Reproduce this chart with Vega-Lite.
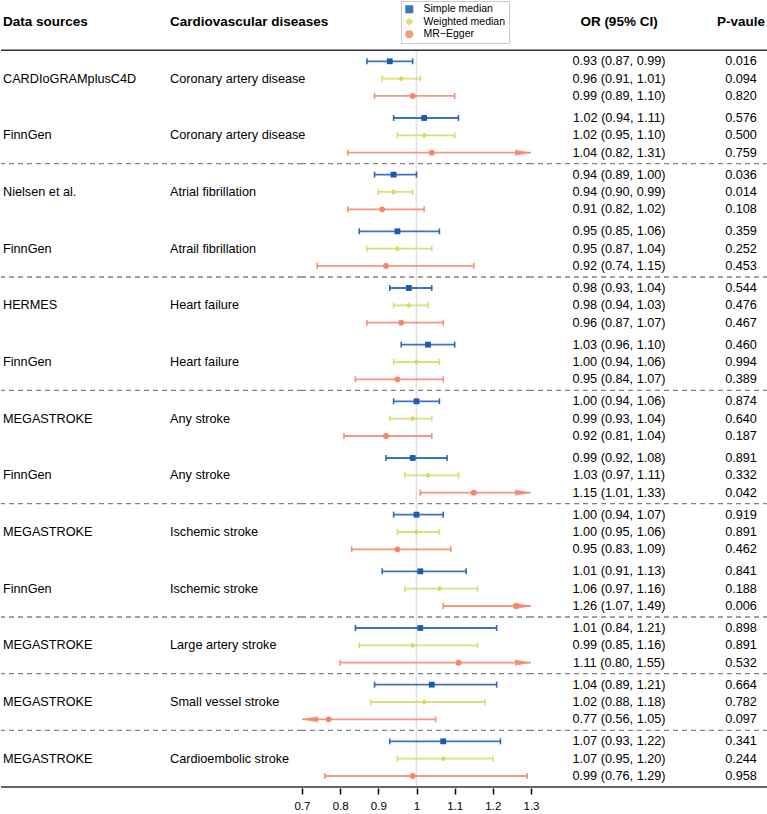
{
  "$schema": "https://vega.github.io/schema/vega-lite/v6.json",
  "padding": 0,
  "bounds": "flush",
  "spacing": 0,
  "config": {
    "view": {"stroke": null},
    "font": "Liberation Sans",
    "concat": {"spacing": 0},
    "text": {"color": "#000000", "font": "Liberation Sans"}
  },
  "datasets": {
    "one": [{}],
    "hdrL": [{"col": "source", "label": "Data sources"}, {"col": "disease", "label": "Cardiovascular diseases"}],
    "hdrR": [{"col": "or", "label": "OR (95% CI)"}, {"col": "p", "label": "P-vaule"}],
    "rows": [
      {"g": 1, "section": "Coronary artery disease", "source": "CARDIoGRAMplusC4D", "disease": "Coronary artery disease", "method": "Simple median", "or": 0.93, "lo": 0.87, "hi": 0.99, "ci": "0.93 (0.87, 0.99)", "p": 0.016},
      {"g": 1, "section": "Coronary artery disease", "source": "CARDIoGRAMplusC4D", "disease": "Coronary artery disease", "method": "Weighted median", "or": 0.96, "lo": 0.91, "hi": 1.01, "ci": "0.96 (0.91, 1.01)", "p": 0.094},
      {"g": 1, "section": "Coronary artery disease", "source": "CARDIoGRAMplusC4D", "disease": "Coronary artery disease", "method": "MR−Egger", "or": 0.99, "lo": 0.89, "hi": 1.10, "ci": "0.99 (0.89, 1.10)", "p": 0.820},
      {"g": 2, "section": "Coronary artery disease", "source": "FinnGen", "disease": "Coronary artery disease", "method": "Simple median", "or": 1.02, "lo": 0.94, "hi": 1.11, "ci": "1.02 (0.94, 1.11)", "p": 0.576},
      {"g": 2, "section": "Coronary artery disease", "source": "FinnGen", "disease": "Coronary artery disease", "method": "Weighted median", "or": 1.02, "lo": 0.95, "hi": 1.10, "ci": "1.02 (0.95, 1.10)", "p": 0.500},
      {"g": 2, "section": "Coronary artery disease", "source": "FinnGen", "disease": "Coronary artery disease", "method": "MR−Egger", "or": 1.04, "lo": 0.82, "hi": 1.31, "ci": "1.04 (0.82, 1.31)", "p": 0.759},
      {"g": 3, "section": "Atrial fibrillation", "source": "Nielsen et al.", "disease": "Atrial fibrillation", "method": "Simple median", "or": 0.94, "lo": 0.89, "hi": 1.00, "ci": "0.94 (0.89, 1.00)", "p": 0.036},
      {"g": 3, "section": "Atrial fibrillation", "source": "Nielsen et al.", "disease": "Atrial fibrillation", "method": "Weighted median", "or": 0.94, "lo": 0.90, "hi": 0.99, "ci": "0.94 (0.90, 0.99)", "p": 0.014},
      {"g": 3, "section": "Atrial fibrillation", "source": "Nielsen et al.", "disease": "Atrial fibrillation", "method": "MR−Egger", "or": 0.91, "lo": 0.82, "hi": 1.02, "ci": "0.91 (0.82, 1.02)", "p": 0.108},
      {"g": 4, "section": "Atrial fibrillation", "source": "FinnGen", "disease": "Atrail fibrillation", "method": "Simple median", "or": 0.95, "lo": 0.85, "hi": 1.06, "ci": "0.95 (0.85, 1.06)", "p": 0.359},
      {"g": 4, "section": "Atrial fibrillation", "source": "FinnGen", "disease": "Atrail fibrillation", "method": "Weighted median", "or": 0.95, "lo": 0.87, "hi": 1.04, "ci": "0.95 (0.87, 1.04)", "p": 0.252},
      {"g": 4, "section": "Atrial fibrillation", "source": "FinnGen", "disease": "Atrail fibrillation", "method": "MR−Egger", "or": 0.92, "lo": 0.74, "hi": 1.15, "ci": "0.92 (0.74, 1.15)", "p": 0.453},
      {"g": 5, "section": "Heart failure", "source": "HERMES", "disease": "Heart failure", "method": "Simple median", "or": 0.98, "lo": 0.93, "hi": 1.04, "ci": "0.98 (0.93, 1.04)", "p": 0.544},
      {"g": 5, "section": "Heart failure", "source": "HERMES", "disease": "Heart failure", "method": "Weighted median", "or": 0.98, "lo": 0.94, "hi": 1.03, "ci": "0.98 (0.94, 1.03)", "p": 0.476},
      {"g": 5, "section": "Heart failure", "source": "HERMES", "disease": "Heart failure", "method": "MR−Egger", "or": 0.96, "lo": 0.87, "hi": 1.07, "ci": "0.96 (0.87, 1.07)", "p": 0.467},
      {"g": 6, "section": "Heart failure", "source": "FinnGen", "disease": "Heart failure", "method": "Simple median", "or": 1.03, "lo": 0.96, "hi": 1.10, "ci": "1.03 (0.96, 1.10)", "p": 0.460},
      {"g": 6, "section": "Heart failure", "source": "FinnGen", "disease": "Heart failure", "method": "Weighted median", "or": 1.00, "lo": 0.94, "hi": 1.06, "ci": "1.00 (0.94, 1.06)", "p": 0.994},
      {"g": 6, "section": "Heart failure", "source": "FinnGen", "disease": "Heart failure", "method": "MR−Egger", "or": 0.95, "lo": 0.84, "hi": 1.07, "ci": "0.95 (0.84, 1.07)", "p": 0.389},
      {"g": 7, "section": "Any stroke", "source": "MEGASTROKE", "disease": "Any stroke", "method": "Simple median", "or": 1.00, "lo": 0.94, "hi": 1.06, "ci": "1.00 (0.94, 1.06)", "p": 0.874},
      {"g": 7, "section": "Any stroke", "source": "MEGASTROKE", "disease": "Any stroke", "method": "Weighted median", "or": 0.99, "lo": 0.93, "hi": 1.04, "ci": "0.99 (0.93, 1.04)", "p": 0.640},
      {"g": 7, "section": "Any stroke", "source": "MEGASTROKE", "disease": "Any stroke", "method": "MR−Egger", "or": 0.92, "lo": 0.81, "hi": 1.04, "ci": "0.92 (0.81, 1.04)", "p": 0.187},
      {"g": 8, "section": "Any stroke", "source": "FinnGen", "disease": "Any stroke", "method": "Simple median", "or": 0.99, "lo": 0.92, "hi": 1.08, "ci": "0.99 (0.92, 1.08)", "p": 0.891},
      {"g": 8, "section": "Any stroke", "source": "FinnGen", "disease": "Any stroke", "method": "Weighted median", "or": 1.03, "lo": 0.97, "hi": 1.11, "ci": "1.03 (0.97, 1.11)", "p": 0.332},
      {"g": 8, "section": "Any stroke", "source": "FinnGen", "disease": "Any stroke", "method": "MR−Egger", "or": 1.15, "lo": 1.01, "hi": 1.33, "ci": "1.15 (1.01, 1.33)", "p": 0.042},
      {"g": 9, "section": "Ischemic stroke", "source": "MEGASTROKE", "disease": "Ischemic stroke", "method": "Simple median", "or": 1.00, "lo": 0.94, "hi": 1.07, "ci": "1.00 (0.94, 1.07)", "p": 0.919},
      {"g": 9, "section": "Ischemic stroke", "source": "MEGASTROKE", "disease": "Ischemic stroke", "method": "Weighted median", "or": 1.00, "lo": 0.95, "hi": 1.06, "ci": "1.00 (0.95, 1.06)", "p": 0.891},
      {"g": 9, "section": "Ischemic stroke", "source": "MEGASTROKE", "disease": "Ischemic stroke", "method": "MR−Egger", "or": 0.95, "lo": 0.83, "hi": 1.09, "ci": "0.95 (0.83, 1.09)", "p": 0.462},
      {"g": 10, "section": "Ischemic stroke", "source": "FinnGen", "disease": "Ischemic stroke", "method": "Simple median", "or": 1.01, "lo": 0.91, "hi": 1.13, "ci": "1.01 (0.91, 1.13)", "p": 0.841},
      {"g": 10, "section": "Ischemic stroke", "source": "FinnGen", "disease": "Ischemic stroke", "method": "Weighted median", "or": 1.06, "lo": 0.97, "hi": 1.16, "ci": "1.06 (0.97, 1.16)", "p": 0.188},
      {"g": 10, "section": "Ischemic stroke", "source": "FinnGen", "disease": "Ischemic stroke", "method": "MR−Egger", "or": 1.26, "lo": 1.07, "hi": 1.49, "ci": "1.26 (1.07, 1.49)", "p": 0.006},
      {"g": 11, "section": "Large artery stroke", "source": "MEGASTROKE", "disease": "Large artery stroke", "method": "Simple median", "or": 1.01, "lo": 0.84, "hi": 1.21, "ci": "1.01 (0.84, 1.21)", "p": 0.898},
      {"g": 11, "section": "Large artery stroke", "source": "MEGASTROKE", "disease": "Large artery stroke", "method": "Weighted median", "or": 0.99, "lo": 0.85, "hi": 1.16, "ci": "0.99 (0.85, 1.16)", "p": 0.891},
      {"g": 11, "section": "Large artery stroke", "source": "MEGASTROKE", "disease": "Large artery stroke", "method": "MR−Egger", "or": 1.11, "lo": 0.80, "hi": 1.55, "ci": "1.11 (0.80, 1.55)", "p": 0.532},
      {"g": 12, "section": "Small vessel stroke", "source": "MEGASTROKE", "disease": "Small vessel stroke", "method": "Simple median", "or": 1.04, "lo": 0.89, "hi": 1.21, "ci": "1.04 (0.89, 1.21)", "p": 0.664},
      {"g": 12, "section": "Small vessel stroke", "source": "MEGASTROKE", "disease": "Small vessel stroke", "method": "Weighted median", "or": 1.02, "lo": 0.88, "hi": 1.18, "ci": "1.02 (0.88, 1.18)", "p": 0.782},
      {"g": 12, "section": "Small vessel stroke", "source": "MEGASTROKE", "disease": "Small vessel stroke", "method": "MR−Egger", "or": 0.77, "lo": 0.56, "hi": 1.05, "ci": "0.77 (0.56, 1.05)", "p": 0.097},
      {"g": 13, "section": "Cardioembolic stroke", "source": "MEGASTROKE", "disease": "Cardioembolic stroke", "method": "Simple median", "or": 1.07, "lo": 0.93, "hi": 1.22, "ci": "1.07 (0.93, 1.22)", "p": 0.341},
      {"g": 13, "section": "Cardioembolic stroke", "source": "MEGASTROKE", "disease": "Cardioembolic stroke", "method": "Weighted median", "or": 1.07, "lo": 0.95, "hi": 1.20, "ci": "1.07 (0.95, 1.20)", "p": 0.244},
      {"g": 13, "section": "Cardioembolic stroke", "source": "MEGASTROKE", "disease": "Cardioembolic stroke", "method": "MR−Egger", "or": 0.99, "lo": 0.76, "hi": 1.29, "ci": "0.99 (0.76, 1.29)", "p": 0.958}
    ]
  },
  "resolve": {"scale": {"y": "shared", "yOffset": "shared"}},
  "hconcat": [
    {
      "width": 301,
      "height": 786,
      "layer": [
        {"data": {"name": "one"}, "mark": {"type": "rule", "color": "#333333", "strokeWidth": 1.6},
         "encoding": {"y": {"datum": 1, "type": "ordinal", "bandPosition": 0, "scale": {"type": "band", "domain": [1,2,3,4,5,6,7,8,9,10,11,12,13], "paddingInner": 0, "paddingOuter": 0.435, "align": 1}, "axis": null}}},
        {"data": {"name": "one"}, "mark": {"type": "rule", "color": "#333333", "strokeWidth": 1.6},
         "encoding": {"y": {"datum": 13, "type": "ordinal", "bandPosition": 1, "axis": null}}},
        {"data": {"name": "rows"}, "transform": [{"aggregate": [{"op": "min", "field": "g", "as": "g"}], "groupby": ["section"]}, {"filter": "datum.g > 1"}],
         "mark": {"type": "rule", "color": "#808080", "strokeWidth": 1.3, "strokeDash": [5, 4]},
         "encoding": {"y": {"field": "g", "type": "ordinal", "bandPosition": 0, "axis": null}}},
        {"data": {"name": "hdrL"}, "mark": {"type": "text", "align": "left", "baseline": "middle", "fontWeight": "bold", "fontSize": 13.5},
         "encoding": {"x": {"field": "col", "type": "nominal", "scale": {"type": "point", "domain": ["source", "disease"], "range": [2, 169], "padding": 0}, "axis": null},
                      "y": {"datum": 1, "type": "ordinal", "bandPosition": -0.5, "axis": null},
                      "text": {"field": "label"}}},
        {"data": {"name": "rows"}, "transform": [{"filter": "datum.method === 'Weighted median'"}, {"fold": ["source", "disease"], "as": ["col", "label"]}],
         "mark": {"type": "text", "align": "left", "baseline": "middle", "fontSize": 12.7},
         "encoding": {"x": {"field": "col", "type": "nominal", "axis": null},
                      "y": {"field": "g", "type": "ordinal", "axis": null},
                      "yOffset": {"field": "method", "type": "nominal", "scale": {"type": "band", "domain": ["Simple median", "Weighted median", "MR−Egger"], "paddingInner": 0, "paddingOuter": 0.135}},
                      "text": {"field": "label"}}}
      ]
    },
    {
      "width": 229,
      "height": 786,
      "layer": [
        {"data": {"name": "one"}, "mark": {"type": "rule", "color": "#e2e2e2", "strokeWidth": 1.6},
         "encoding": {"x": {"datum": 1, "type": "quantitative", "scale": {"domain": [0.7, 1.3], "clamp": true, "nice": false, "zero": false},
                            "axis": {"values": [0.7, 0.8, 0.9, 1, 1.1, 1.2, 1.3], "tickCount": 20, "format": "~g", "title": null, "labelOverlap": false, "labelFlush": false, "ticks": true, "tickColor": "#000000", "tickWidth": 1.5, "tickSize": 6, "offset": 1, "labelFontSize": 11.5, "labelColor": "#000000", "labelPadding": 6, "labelFont": "Liberation Sans", "domain": false, "grid": false}},
                      "y": {"datum": 1, "type": "ordinal", "bandPosition": 0, "scale": {"type": "band", "domain": [1,2,3,4,5,6,7,8,9,10,11,12,13], "paddingInner": 0, "paddingOuter": 0.435, "align": 1}, "axis": null},
                      "y2": {"datum": 13, "bandPosition": 1}}},
        {"data": {"name": "one"}, "mark": {"type": "rule", "color": "#333333", "strokeWidth": 1.6},
         "encoding": {"y": {"datum": 1, "type": "ordinal", "bandPosition": 0, "axis": null}}},
        {"data": {"name": "one"}, "mark": {"type": "rule", "color": "#333333", "strokeWidth": 1.6},
         "encoding": {"y": {"datum": 13, "type": "ordinal", "bandPosition": 1, "axis": null}}},
        {"data": {"name": "rows"}, "transform": [{"aggregate": [{"op": "min", "field": "g", "as": "g"}], "groupby": ["section"]}, {"filter": "datum.g > 1"}],
         "mark": {"type": "rule", "color": "#808080", "strokeWidth": 1.3, "strokeDash": [5, 4]},
         "encoding": {"y": {"field": "g", "type": "ordinal", "bandPosition": 0, "axis": null}}},
        {"data": {"name": "rows"}, "mark": {"type": "rule", "strokeWidth": 1.8, "opacity": 0.85},
         "encoding": {"x": {"field": "lo", "type": "quantitative"}, "x2": {"field": "hi"},
                      "y": {"field": "g", "type": "ordinal", "axis": null},
                      "yOffset": {"field": "method", "type": "nominal", "scale": {"type": "band", "domain": ["Simple median", "Weighted median", "MR−Egger"], "paddingInner": 0, "paddingOuter": 0.135}},
                      "color": {"field": "method", "type": "nominal", "scale": {"domain": ["Simple median", "Weighted median", "MR−Egger"], "range": ["#1b5cae", "#d8d864", "#f4866b"]}}}},
        {"data": {"name": "rows"}, "transform": [{"filter": "datum.lo >= 0.7"}], "mark": {"type": "tick", "thickness": 1.6, "size": 6, "opacity": 0.9},
         "encoding": {"x": {"field": "lo", "type": "quantitative"},
                      "y": {"field": "g", "type": "ordinal", "axis": null},
                      "yOffset": {"field": "method", "type": "nominal"},
                      "color": {"field": "method", "type": "nominal"}}},
        {"data": {"name": "rows"}, "transform": [{"filter": "datum.hi <= 1.3"}], "mark": {"type": "tick", "thickness": 1.6, "size": 6, "opacity": 0.9},
         "encoding": {"x": {"field": "hi", "type": "quantitative"},
                      "y": {"field": "g", "type": "ordinal", "axis": null},
                      "yOffset": {"field": "method", "type": "nominal"},
                      "color": {"field": "method", "type": "nominal"}}},
        {"data": {"name": "rows"}, "transform": [{"filter": "datum.hi > 1.3"}], "mark": {"type": "point", "filled": true, "shape": "M0,0L-2,-0.4L-2,0.4Z", "size": 256, "opacity": 0.85},
         "encoding": {"x": {"field": "hi", "type": "quantitative"},
                      "y": {"field": "g", "type": "ordinal", "axis": null},
                      "yOffset": {"field": "method", "type": "nominal"},
                      "color": {"field": "method", "type": "nominal"}}},
        {"data": {"name": "rows"}, "transform": [{"filter": "datum.lo < 0.7"}], "mark": {"type": "point", "filled": true, "shape": "M0,0L2,-0.4L2,0.4Z", "size": 256, "opacity": 0.85},
         "encoding": {"x": {"field": "lo", "type": "quantitative"},
                      "y": {"field": "g", "type": "ordinal", "axis": null},
                      "yOffset": {"field": "method", "type": "nominal"},
                      "color": {"field": "method", "type": "nominal"}}},
        {"data": {"name": "rows"}, "mark": {"type": "point", "filled": true, "size": 34, "opacity": 1},
         "encoding": {"x": {"field": "or", "type": "quantitative"},
                      "y": {"field": "g", "type": "ordinal", "axis": null},
                      "yOffset": {"field": "method", "type": "nominal"},
                      "color": {"field": "method", "type": "nominal",
                                "legend": {"title": null, "orient": "none", "legendX": 400, "legendY": 0, "labelFontSize": 10.5, "labelFont": "Liberation Sans", "labelColor": "#000000", "symbolSize": 64, "padding": 3, "rowPadding": 1.5, "labelOffset": 9, "strokeColor": "#cccccc", "fillColor": "#ffffff", "symbolStrokeWidth": 0}},
                      "shape": {"field": "method", "type": "nominal", "scale": {"domain": ["Simple median", "Weighted median", "MR−Egger"], "range": ["square", "diamond", "circle"]},
                                "legend": {"title": null, "orient": "none", "legendX": 400, "legendY": 0, "labelFontSize": 10.5, "labelFont": "Liberation Sans", "labelColor": "#000000", "symbolSize": 64, "padding": 3, "rowPadding": 1.5, "labelOffset": 9, "strokeColor": "#cccccc", "fillColor": "#ffffff", "symbolStrokeWidth": 0}}}}
      ]
    },
    {
      "width": 237,
      "height": 786,
      "layer": [
        {"data": {"name": "one"}, "mark": {"type": "rule", "color": "#333333", "strokeWidth": 1.6},
         "encoding": {"y": {"datum": 1, "type": "ordinal", "bandPosition": 0, "scale": {"type": "band", "domain": [1,2,3,4,5,6,7,8,9,10,11,12,13], "paddingInner": 0, "paddingOuter": 0.435, "align": 1}, "axis": null}}},
        {"data": {"name": "one"}, "mark": {"type": "rule", "color": "#333333", "strokeWidth": 1.6},
         "encoding": {"y": {"datum": 13, "type": "ordinal", "bandPosition": 1, "axis": null}}},
        {"data": {"name": "rows"}, "transform": [{"aggregate": [{"op": "min", "field": "g", "as": "g"}], "groupby": ["section"]}, {"filter": "datum.g > 1"}],
         "mark": {"type": "rule", "color": "#808080", "strokeWidth": 1.3, "strokeDash": [5, 4]},
         "encoding": {"y": {"field": "g", "type": "ordinal", "bandPosition": 0, "axis": null}}},
        {"data": {"name": "hdrR"}, "mark": {"type": "text", "align": "center", "baseline": "middle", "fontWeight": "bold", "fontSize": 13.5},
         "encoding": {"x": {"field": "col", "type": "nominal", "scale": {"type": "point", "domain": ["or", "p"], "range": [88, 210], "padding": 0}, "axis": null},
                      "y": {"datum": 1, "type": "ordinal", "bandPosition": -0.5, "axis": null},
                      "text": {"field": "label"}}},
        {"data": {"name": "rows"}, "mark": {"type": "text", "align": "center", "baseline": "middle", "fontSize": 12.7},
         "encoding": {"x": {"datum": "or", "type": "nominal", "axis": null},
                      "y": {"field": "g", "type": "ordinal", "axis": null},
                      "yOffset": {"field": "method", "type": "nominal", "scale": {"type": "band", "domain": ["Simple median", "Weighted median", "MR−Egger"], "paddingInner": 0, "paddingOuter": 0.135}},
                      "text": {"field": "ci"}}},
        {"data": {"name": "rows"}, "mark": {"type": "text", "align": "center", "baseline": "middle", "fontSize": 12.7},
         "encoding": {"x": {"datum": "p", "type": "nominal", "axis": null},
                      "y": {"field": "g", "type": "ordinal", "axis": null},
                      "yOffset": {"field": "method", "type": "nominal"},
                      "text": {"field": "p", "type": "quantitative", "format": ".3f"}}}
      ]
    }
  ]
}
